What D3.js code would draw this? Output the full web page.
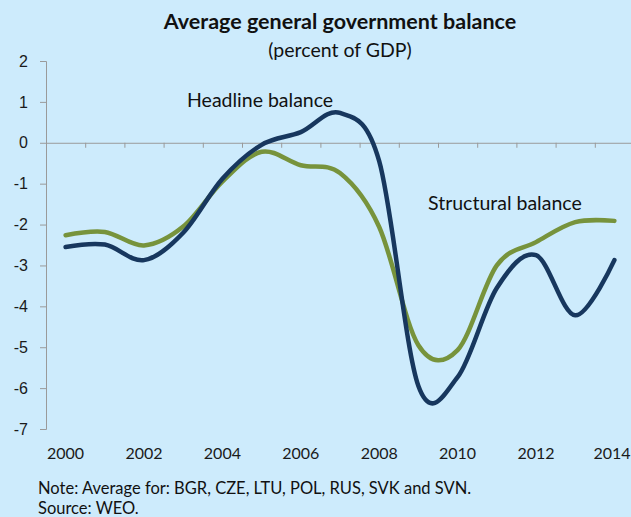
<!DOCTYPE html>
<html>
<head>
<meta charset="utf-8">
<script src="https://cdn.jsdelivr.net/npm/d3@7"></script>
<style>
  body { margin: 0; background: #cdebfc; }
  svg { display: block; font-family: Lato, "Open Sans", sans-serif; }
  .axis path, .axis line { stroke: #9a9a9a; }
  .axis text { fill: #1a1a1a; font-size: 16px; }
</style>
</head>
<body>
<script>
var years = [2000, 2001, 2002, 2003, 2004, 2005, 2006, 2007, 2008, 2009, 2010, 2011, 2012, 2013, 2014];
var headline = [-2.55, -2.49, -2.87, -2.2, -0.88, -0.05, 0.26, 0.73, -0.45, -5.95, -5.73, -3.55, -2.75, -4.22, -2.87];
var structural = [-2.26, -2.18, -2.51, -2.05, -0.95, -0.22, -0.55, -0.74, -2.06, -4.95, -5.07, -3.0, -2.43, -1.94, -1.91];
var yTicks = [2, 1, 0, -1, -2, -3, -4, -5, -6, -7];
var xLabels = [2000, 2002, 2004, 2006, 2008, 2010, 2012, 2014];

var width = 631, height = 517;

var svg = d3.select("body").append("svg")
    .attr("width", width)
    .attr("height", height);

svg.append("rect")
    .attr("width", width)
    .attr("height", height)
    .attr("fill", "#cdebfc");

var x = d3.scaleLinear()
    .domain([1999.5, 2014.5])
    .range([46, 634]);

var y = d3.scaleLinear()
    .domain([-7, 2])
    .range([429, 61]);

// title
svg.append("text")
    .attr("x", 340)
    .attr("y", 29)
    .attr("text-anchor", "middle")
    .attr("font-weight", "bold")
    .attr("font-size", 21.5)
    .attr("fill", "#111")
    .text("Average general government balance");

svg.append("text")
    .attr("x", 340)
    .attr("y", 57)
    .attr("text-anchor", "middle")
    .attr("font-size", 19.5)
    .attr("fill", "#111")
    .text("(percent of GDP)");

// y axis
svg.append("g")
    .attr("class", "axis")
    .attr("transform", "translate(46,0)")
    .call(d3.axisLeft(y).tickValues(yTicks).tickSize(6).tickSizeOuter(6).tickPadding(12)
      .tickFormat(function(d) { return String(d); }));

// zero line with ticks between categories
var halfYears = years.map(function(d) { return d + 0.5; });
svg.append("g")
    .attr("class", "axis")
    .attr("transform", "translate(0," + y(0) + ")")
    .call(d3.axisBottom(x).tickValues(halfYears).tickSize(5).tickSizeOuter(0).tickFormat(""));

// year labels at bottom (last one kept inside the frame)
svg.append("g")
    .selectAll("text")
    .data(xLabels)
    .join("text")
    .attr("x", function(d) { return Math.min(x(d), width - 19); })
    .attr("y", 459)
    .attr("text-anchor", "middle")
    .attr("font-size", 16)
    .attr("fill", "#1a1a1a")
    .text(function(d) { return d; });

var line = d3.line()
    .x(function(d, i) { return x(years[i]); })
    .y(function(d) { return y(d); })
    .curve(d3.curveCardinal.tension(0));

svg.append("path")
    .datum(structural)
    .attr("fill", "none")
    .attr("stroke", "#77933c")
    .attr("stroke-width", 4.5)
    .attr("stroke-linecap", "round")
    .attr("d", line);

svg.append("path")
    .datum(headline)
    .attr("fill", "none")
    .attr("stroke", "#17375e")
    .attr("stroke-width", 4.5)
    .attr("stroke-linecap", "round")
    .attr("d", line);

// series labels
svg.append("text")
    .attr("x", 187)
    .attr("y", 107)
    .attr("font-size", 19.5)
    .attr("fill", "#111")
    .text("Headline balance");

svg.append("text")
    .attr("x", 428)
    .attr("y", 210)
    .attr("font-size", 19.5)
    .attr("fill", "#111")
    .text("Structural balance");

// notes
svg.append("text")
    .attr("x", 38)
    .attr("y", 494)
    .attr("font-size", 16.5)
    .attr("fill", "#111")
    .text("Note: Average for: BGR, CZE, LTU, POL, RUS, SVK and SVN.");

svg.append("text")
    .attr("x", 38)
    .attr("y", 514)
    .attr("font-size", 16.5)
    .attr("fill", "#111")
    .text("Source: WEO.");
</script>
</body>
</html>
